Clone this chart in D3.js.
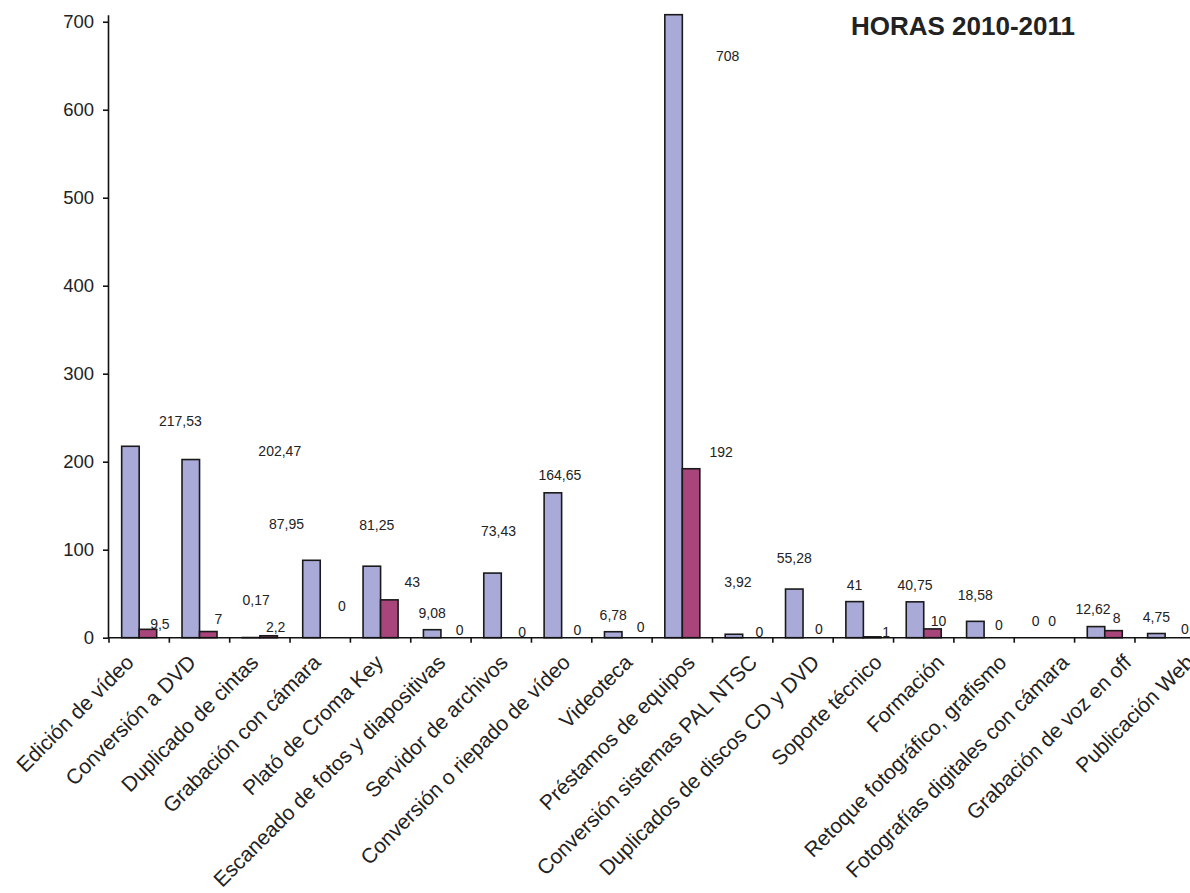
<!DOCTYPE html>
<html>
<head>
<meta charset="utf-8">
<script src="https://cdn.jsdelivr.net/npm/d3@7"></script>
<style>
  html, body { margin: 0; padding: 0; background: #fff; }
  svg { display: block; font-family: "Liberation Sans", Arial, Helvetica, sans-serif; }
</style>
</head>
<body>
<svg id="chart" width="1190" height="893"></svg>
<script>
// ---- data ----
const categories = [
  "Edición de vídeo", "Conversión a DVD", "Duplicado de cintas", "Grabación con cámara",
  "Plató de Croma Key", "Escaneado de fotos y diapositivas", "Servidor de archivos",
  "Conversión o riepado de vídeo", "Videoteca", "Préstamos de equipos",
  "Conversión sistemas PAL NTSC", "Duplicados de discos CD y DVD", "Soporte técnico",
  "Formación", "Retoque fotográfico, grafismo", "Fotografías digitales con cámara",
  "Grabación de voz en off", "Publicación Web"
];
const seriesA = [217.53, 202.47, 0.17, 87.95, 81.25, 9.08, 73.43, 164.65, 6.78, 708, 3.92, 55.28, 41, 40.75, 18.58, 0, 12.62, 4.75];
const seriesB = [9.5, 7, 2.2, 0, 43, 0, 0, 0, 0, 192, 0, 0, 1, 10, 0, 0, 8, 0];
const yTicks = [0, 100, 200, 300, 400, 500, 600, 700];
const title = "HORAS 2010-2011";

// ---- layout: label nudges as they appear in the original (px) ----
const nudgeA = [[50,-8],[89,8],[5,-21],[-25,-19],[5,-24],[0,0],[6,-25],[7,-1],[0,0],[54,58],[4,-35],[0,-14],[0,0],[0,0],[0,-9],[0,0],[-3,-1],[0,0]];
const nudgeB = [[12,12],[10,4],[7,8],[13,-15],[23,-1],[10,9],[12,11],[7,9],[10,6],[30,0],[8,11],[7,8],[14,12],[6,9],[6,4],[-1,0],[3,4],[11,8]];

const svg = d3.select("#chart");
const x0 = 109, x1 = 1195.3, yTop = 14.7, yBase = 637.7;

const x = d3.scaleBand().domain(categories).range([x0, x1]).padding(0);
// category labels in the original sit on a slightly wider pitch than the bars
const xLab = d3.scaleBand().domain(categories).range([103.8, 1226.1]).padding(0);
const y = d3.scaleLinear().domain([0, 708]).range([yBase, yTop]);
const bw = x.bandwidth();
const barW = bw * 0.29, barOff = bw * 0.21;

const colA = "#aaaad9", colB = "#a8457b", stroke = "#1a1a1a";
const fmt = v => String(v).replace(".", ",");

// bars
const g = svg.append("g");
categories.forEach((c, i) => {
  const bx = x(c) + barOff;
  g.append("rect").attr("x", bx).attr("y", y(seriesA[i]))
    .attr("width", barW).attr("height", yBase - y(seriesA[i]))
    .attr("fill", colA).attr("stroke", stroke).attr("stroke-width", 1.6);
  g.append("rect").attr("x", bx + barW).attr("y", y(seriesB[i]))
    .attr("width", barW).attr("height", yBase - y(seriesB[i]))
    .attr("fill", colB).attr("stroke", stroke).attr("stroke-width", 1.6);
});

// value labels
categories.forEach((c, i) => {
  const bx = x(c) + barOff;
  g.append("text").attr("x", bx + barW / 2 + nudgeA[i][0]).attr("y", y(seriesA[i]) - 12 + nudgeA[i][1])
    .attr("text-anchor", "middle").attr("font-size", 14).attr("fill", "#222").text(fmt(seriesA[i]));
  g.append("text").attr("x", bx + barW * 1.5 + nudgeB[i][0]).attr("y", y(seriesB[i]) - 12 + nudgeB[i][1])
    .attr("text-anchor", "middle").attr("font-size", 14).attr("fill", "#222").text(fmt(seriesB[i]));
});

// y axis
const yAxis = d3.axisLeft(y).tickValues(yTicks).tickSizeInner(5).tickSizeOuter(0).tickPadding(9);
const ya = svg.append("g").attr("transform", `translate(${x0 - 1},0)`).call(yAxis);
ya.select(".domain").attr("stroke", "#111").attr("stroke-width", 1.6);
ya.selectAll(".tick line").attr("stroke", "#111").attr("stroke-width", 1.6);
ya.selectAll(".tick text").attr("font-size", 18.5).attr("fill", "#222")
  .attr("font-family", "'Liberation Sans', Arial, sans-serif");

// x axis
const xa = svg.append("g");
xa.append("line").attr("x1", x0 - 1).attr("x2", x1 + 5).attr("y1", yBase).attr("y2", yBase)
  .attr("stroke", "#111").attr("stroke-width", 1.6);
categories.concat([null]).forEach(c => {
  const tx = c === null ? x1 : x(c);
  xa.append("line").attr("x1", tx).attr("x2", tx).attr("y1", yBase).attr("y2", yBase + 5)
    .attr("stroke", "#111").attr("stroke-width", 1.6);
});
categories.forEach(c => {
  const cx = xLab(c) + xLab.bandwidth() / 2, cy = yBase + 26;
  xa.append("text").attr("transform", `translate(${cx},${cy}) rotate(-45)`)
    .attr("text-anchor", "end").attr("font-size", 21).attr("fill", "#222").text(c);
});

// title
svg.append("text").attr("x", 1075).attr("y", 35).attr("text-anchor", "end")
  .attr("font-size", 26).attr("font-weight", "bold").attr("fill", "#222").text(title);
</script>
</body>
</html>
